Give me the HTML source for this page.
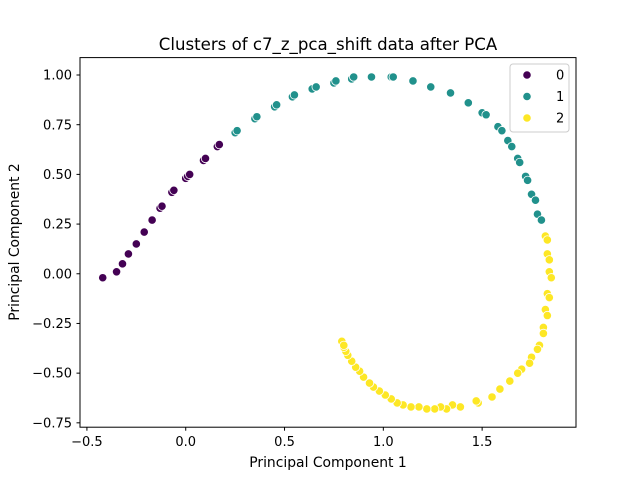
<!DOCTYPE html>
<html><head><meta charset="utf-8"><style>
body{margin:0;background:#fff;}
svg{font-family:"DejaVu Sans","Liberation Sans",sans-serif;}
</style></head><body>
<svg id="chart" width="640" height="480" xmlns="http://www.w3.org/2000/svg">
<rect width="640" height="480" fill="#fff"/>
<text x="328" y="50" font-size="16.6" text-anchor="middle">Clusters of c7_z_pca_shift data after PCA</text>
<g id="marks"></g>
<rect x="80" y="57.6" width="496" height="369.6" fill="none" stroke="#000" stroke-width="1"/>
<g id="ticks"></g>
<text x="328" y="467" font-size="13.9" text-anchor="middle">Principal Component 1</text>
<text transform="translate(19,242) rotate(-90)" font-size="13.9" text-anchor="middle">Principal Component 2</text>
<g>
<rect x="510" y="64" width="59" height="68" rx="3" fill="#fff" fill-opacity="0.8" stroke="#ccc"/>
<g id="legend-items"></g>
</g>
</svg>
<script>
const xTicks=[-0.5,0.0,0.5,1.0,1.5];
const yTicks=[-0.75,-0.5,-0.25,0.0,0.25,0.5,0.75,1.0];
const clusterNames=["0","1","2"];
const colors=["#440154","#21918c","#fde725"];
const c0x=[-0.42,-0.35,-0.32,-0.29,-0.25,-0.21,-0.17,-0.13,-0.12,-0.07,-0.06,0.00,0.01,0.02,0.09,0.10,0.16,0.17];
const c0y=[-0.02,0.01,0.05,0.10,0.15,0.21,0.27,0.33,0.34,0.41,0.42,0.48,0.49,0.50,0.57,0.58,0.64,0.65];
const c1x=[0.25,0.26,0.35,0.36,0.45,0.46,0.54,0.55,0.64,0.66,0.75,0.76,0.84,0.85,0.94,1.04,1.05,1.15,1.24,1.34,1.43,1.50,1.52,1.58,1.60,1.63,1.65,1.68,1.69,1.72,1.73,1.75,1.77,1.78,1.80];
const c1y=[0.71,0.72,0.78,0.79,0.84,0.85,0.89,0.90,0.93,0.94,0.96,0.97,0.98,0.99,0.99,0.99,0.99,0.97,0.94,0.91,0.86,0.81,0.80,0.74,0.72,0.67,0.64,0.58,0.56,0.49,0.47,0.40,0.37,0.30,0.27];
const c2x=[1.82,1.83,1.83,1.84,1.84,1.85,1.83,1.84,1.82,1.83,1.81,1.81,1.79,1.78,1.75,1.74,1.70,1.68,1.64,1.59,1.55,1.48,1.47,1.39,1.35,1.32,1.29,1.26,1.22,1.18,1.14,1.10,1.07,1.04,1.01,0.98,0.95,0.93,0.90,0.88,0.86,0.84,0.82,0.81,0.80,0.79,0.80];
const c2y=[0.19,0.17,0.10,0.07,0.01,-0.02,-0.10,-0.12,-0.18,-0.21,-0.27,-0.30,-0.36,-0.38,-0.42,-0.45,-0.48,-0.50,-0.54,-0.58,-0.62,-0.65,-0.64,-0.67,-0.66,-0.68,-0.67,-0.68,-0.68,-0.67,-0.67,-0.66,-0.65,-0.63,-0.61,-0.59,-0.57,-0.55,-0.52,-0.49,-0.47,-0.44,-0.41,-0.39,-0.37,-0.34,-0.36];

const NS="http://www.w3.org/2000/svg";
function sx(v){return 80+(v+0.535)/(1.975+0.535)*496;}
function sy(v){return 427.2-(v+0.772)/(1.0876+0.772)*369.6;}
function mk(t,a){const e=document.createElementNS(NS,t);for(const k in a)e.setAttribute(k,a[k]);return e;}
const marks=document.getElementById('marks');
[[c0x,c0y],[c1x,c1y],[c2x,c2y]].forEach((s,ci)=>{
  s[0].forEach((xv,i)=>{
    const c=mk('circle',{cx:sx(xv),cy:sy(s[1][i]),r:4.2,fill:colors[ci],stroke:'#fff','stroke-width':0.8});
    
    
    marks.appendChild(c);
  });
});
const ticks=document.getElementById('ticks');
xTicks.forEach(v=>{
  const g=mk('g',{});
  
  
  g.appendChild(mk('line',{x1:sx(v),x2:sx(v),y1:427.2,y2:430.7,stroke:'#000'}));
  const t=mk('text',{x:sx(v),y:446,'font-size':13,'text-anchor':'middle'});
  t.textContent=v.toFixed(1).replace('-','\u2212');
  g.appendChild(t);ticks.appendChild(g);
});
yTicks.forEach(v=>{
  const g=mk('g',{});
  
  
  g.appendChild(mk('line',{x1:76.5,x2:80,y1:sy(v),y2:sy(v),stroke:'#000'}));
  const t=mk('text',{x:72,y:sy(v)+4.6,'font-size':13,'text-anchor':'end'});
  t.textContent=v.toFixed(2).replace('-','\u2212');
  g.appendChild(t);ticks.appendChild(g);
});
const leg=document.getElementById('legend-items');
clusterNames.forEach((n,i)=>{
  const y=75+i*21.5;
  const g=mk('g',{});
  
  
  g.appendChild(mk('circle',{cx:527,cy:y,r:4.2,fill:colors[i],stroke:'#fff','stroke-width':0.8}));
  const t=mk('text',{x:556,y:y+4.6,'font-size':13});
  t.textContent=n;g.appendChild(t);leg.appendChild(g);
});
</script>
</body></html>
